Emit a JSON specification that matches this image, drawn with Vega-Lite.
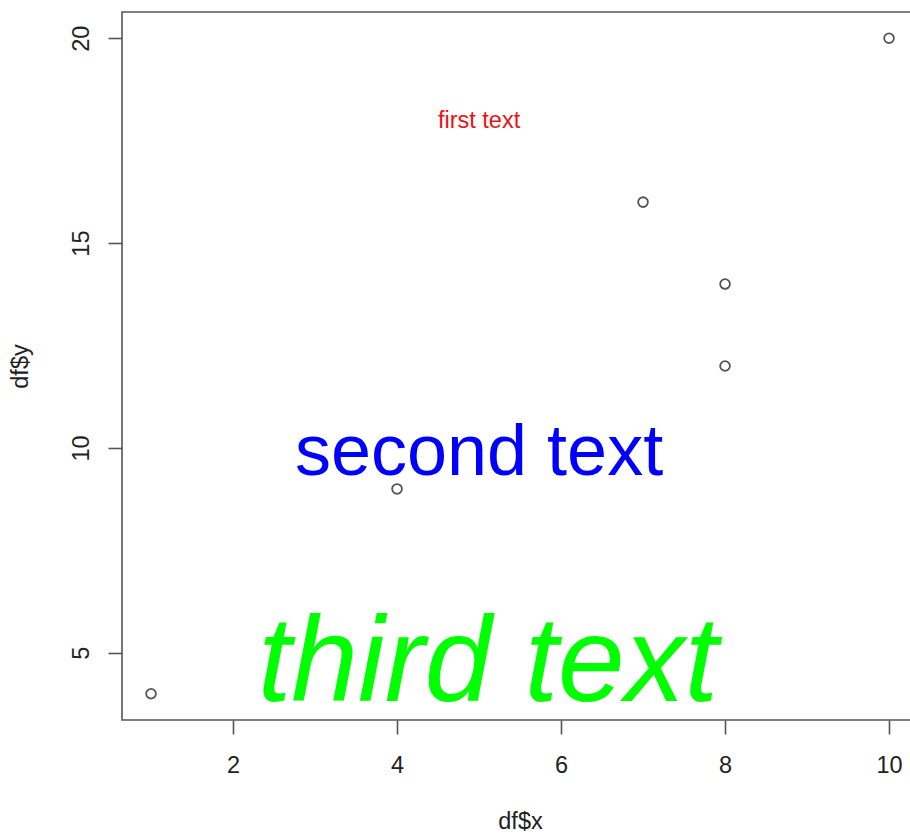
{
  "$schema": "https://vega.github.io/schema/vega-lite/v6.json",
  "width": 796,
  "height": 708,
  "autosize": {"type": "none"},
  "padding": {"left": 122, "top": 12, "right": -8, "bottom": 114},
  "background": "white",
  "config": {
    "view": {"stroke": "#555555", "strokeWidth": 1.6},
    "font": "Liberation Sans",
    "axis": {
      "grid": false,
      "domain": false,
      "tickColor": "#555555",
      "tickWidth": 1.6,
      "tickSize": 14,
      "labelFont": "Liberation Sans",
      "labelFontSize": 23.5,
      "labelColor": "#222222",
      "labelFlush": false,
      "labelOverlap": false,
      "titleFont": "Liberation Sans",
      "titleFontSize": 23.5,
      "titleFontWeight": "normal",
      "titleColor": "#222222"
    },
    "axisX": {
      "orient": "bottom",
      "values": [2, 4, 6, 8, 10],
      "labelPadding": 19,
      "titleX": 398,
      "titleY": 108,
      "titleAlign": "center",
      "titleBaseline": "alphabetic"
    },
    "axisY": {
      "orient": "left",
      "values": [5, 10, 15, 20],
      "labelAngle": -90,
      "labelAlign": "center",
      "labelBaseline": "alphabetic",
      "labelPadding": 20,
      "titleAngle": -90,
      "titleX": -95,
      "titleY": 354,
      "titleAlign": "center",
      "titleBaseline": "alphabetic"
    }
  },
  "datasets": {
    "points": [
      {"x": 1, "y": 4},
      {"x": 4, "y": 9},
      {"x": 7, "y": 16},
      {"x": 8, "y": 14},
      {"x": 8, "y": 12},
      {"x": 10, "y": 20}
    ],
    "labels": [
      {"x": 5, "y": 18, "label": "first text"},
      {"x": 5, "y": 10, "label": "second text"},
      {"x": 5, "y": 5, "label": "third text"}
    ]
  },
  "layer": [
    {
      "data": {"name": "points"},
      "mark": {"type": "point", "shape": "circle", "filled": false, "size": 95, "stroke": "#555555", "strokeWidth": 1.8, "opacity": 1},
      "encoding": {
        "x": {"field": "x", "type": "quantitative", "title": "df$x", "scale": {"domain": [0.646, 10.353], "nice": false, "zero": false}, "axis": {"values": [2, 4, 6, 8, 10]}},
        "y": {"field": "y", "type": "quantitative", "title": "df$y", "scale": {"domain": [3.36, 20.64], "nice": false, "zero": false}, "axis": {"values": [5, 10, 15, 20]}}
      }
    },
    {
      "data": {"name": "labels"},
      "transform": [{"filter": "datum.label == 'first text'"}],
      "mark": {"type": "text", "fontSize": 23.5, "color": "#ee1111", "align": "center", "baseline": "alphabetic", "dy": 8},
      "encoding": {
        "x": {"field": "x", "type": "quantitative", "title": "df$x", "scale": {"domain": [0.646, 10.353], "nice": false, "zero": false}, "axis": {"values": [2, 4, 6, 8, 10]}},
        "y": {"field": "y", "type": "quantitative", "title": "df$y", "scale": {"domain": [3.36, 20.64], "nice": false, "zero": false}, "axis": {"values": [5, 10, 15, 20]}},
        "text": {"field": "label"}
      }
    },
    {
      "data": {"name": "labels"},
      "transform": [{"filter": "datum.label == 'second text'"}],
      "mark": {"type": "text", "fontSize": 72, "color": "#0000ff", "align": "center", "baseline": "alphabetic", "dy": 27},
      "encoding": {
        "x": {"field": "x", "type": "quantitative", "title": "df$x", "scale": {"domain": [0.646, 10.353], "nice": false, "zero": false}, "axis": {"values": [2, 4, 6, 8, 10]}},
        "y": {"field": "y", "type": "quantitative", "title": "df$y", "scale": {"domain": [3.36, 20.64], "nice": false, "zero": false}, "axis": {"values": [5, 10, 15, 20]}},
        "text": {"field": "label"}
      }
    },
    {
      "data": {"name": "labels"},
      "transform": [{"filter": "datum.label == 'third text'"}],
      "mark": {"type": "text", "fontSize": 120, "fontStyle": "italic", "color": "#00ff00", "align": "center", "baseline": "alphabetic", "dx": 9, "dy": 48},
      "encoding": {
        "x": {"field": "x", "type": "quantitative", "title": "df$x", "scale": {"domain": [0.646, 10.353], "nice": false, "zero": false}, "axis": {"values": [2, 4, 6, 8, 10]}},
        "y": {"field": "y", "type": "quantitative", "title": "df$y", "scale": {"domain": [3.36, 20.64], "nice": false, "zero": false}, "axis": {"values": [5, 10, 15, 20]}},
        "text": {"field": "label"}
      }
    }
  ]
}
